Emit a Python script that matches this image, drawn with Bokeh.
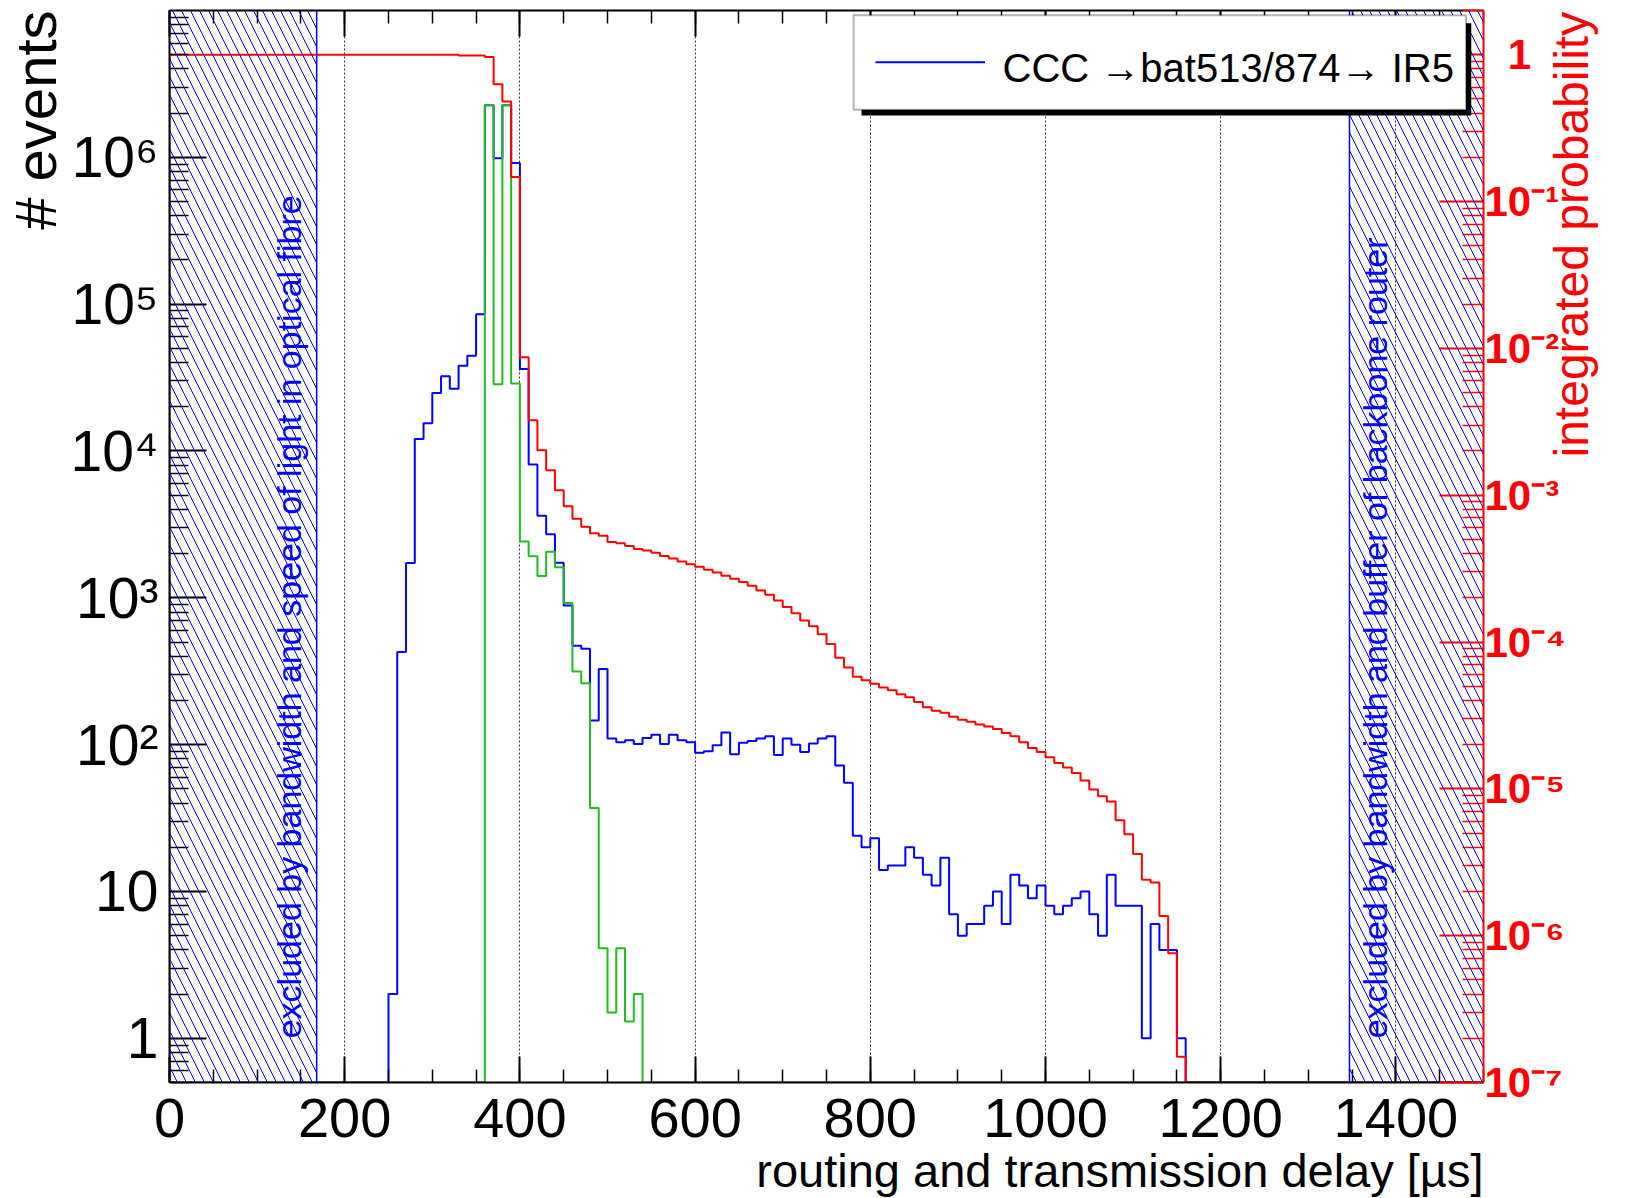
import numpy as np
from bokeh.plotting import figure
from bokeh.models import (Range1d, LogScale, LogAxis, LinearAxis, FixedTicker,
                          Label, BoxAnnotation, Span, Arrow, Title)
from bokeh.embed import file_html
from bokeh.resources import INLINE

# ---------------- data ----------------
BIN_WIDTH = 10            # µs
X_MIN, X_MAX = 0, 1500

# CCC ->bat513/874-> IR5 (blue), counts per 10 µs bin starting at 250 µs
blue_first_bin = 250
blue_counts = [2, 428, 1726, 12080, 15450, 24840, 32340, 26530, 38000, 44500,
               85500, 2260000, 985000, 2260000, 916000, 36200, 8090, 3620, 2710, 1730,
               885, 471, 449, 146, 328, 110, 104, 107, 101, 111,
               117, 101, 117, 107, 104, 88, 90, 99, 121, 86,
               103, 106, 110, 114, 85, 110, 100, 89, 102, 110,
               114, 72, 55, 24, 20, 23, 14, 15, 15, 20,
               17, 13, 11, 17, 7, 5, 6, 6, 8, 10,
               6, 13, 11, 9, 11, 8, 7, 8, 9, 10,
               7, 5, 13, 8, 8, 8, 1, 6, 4, 4,
               1]

# second (green) histogram, counts per bin starting at 360 µs
green_first_bin = 360
green_counts = [2260000, 28500, 2260000, 28800, 2420, 1920, 1410, 2058, 1615, 923,
                315, 262, 37, 4.1, 1.5, 4.1, 1.3, 2.0]

# integrated probability (red, right axis); plateau before the first listed bin
red_plateau = 1.0
red_first_bin = 330
red_prob = [0.986, 0.986, 0.986, 0.964, 0.63, 0.48, 0.147, 8.7e-3, 3.24e-3, 2.02e-3,
            1.48e-3, 1.08e-3, 8.4e-4, 6.9e-4, 6.1e-4, 5.5e-4, 5.3e-4, 4.8e-4, 4.7e-4, 4.5e-4,
            4.3e-4, 4.2e-4, 4.05e-4, 3.86e-4, 3.7e-4, 3.54e-4, 3.38e-4, 3.25e-4, 3.1e-4, 2.97e-4,
            2.83e-4, 2.7e-4, 2.56e-4, 2.42e-4, 2.24e-4, 2.1e-4, 1.92e-4, 1.73e-4, 1.57e-4, 1.4e-4,
            1.28e-4, 1.13e-4, 9.7e-5, 7.8e-5, 6.7e-5, 5.8e-5, 5.5e-5, 5.2e-5, 4.9e-5, 4.7e-5,
            4.4e-5, 4.2e-5, 3.9e-5, 3.6e-5, 3.4e-5, 3.3e-5, 3.1e-5, 2.96e-5, 2.86e-5, 2.74e-5,
            2.66e-5, 2.56e-5, 2.4e-5, 2.28e-5, 2.08e-5, 1.9e-5, 1.78e-5, 1.64e-5, 1.5e-5, 1.4e-5,
            1.28e-5, 1.14e-5, 9.9e-6, 8.9e-6, 8.2e-6, 6.1e-6, 4.9e-6, 3.6e-6, 2.4e-6, 2.3e-6,
            1.36e-6, 7.6e-7, 1.5e-7]

# excluded regions (µs)
excl_low_end = 168
excl_high_start = 1347

x_major_ticks = [0, 200, 400, 600, 800, 1000, 1200, 1400]
left_tick_labels = {1: "1", 10: "10", 100: "10\u00b2", 1000: "10\u00b3",
                    10000: "10\u2074", 100000: "10\u2075", 1000000: "10\u2076"}
right_tick_labels = {1: "\u20071", 0.1: "10\u207b\u00b9", 0.01: "10\u207b\u00b2",
                     0.001: "10\u207b\u00b3", 0.0001: "10\u207b\u2074",
                     1e-05: "10\u207b\u2075", 1e-06: "10\u207b\u2076",
                     1e-07: "10\u207b\u2077"}

x_title = "routing and transmission delay [\u00b5s]"
y_title = "# events"
y2_title = "integrated probability"
legend_text = "CCC \u2192bat513/874\u2192 IR5"
left_note = "excluded by bandwidth and speed of light in optical fibre"
right_note = "excluded by bandwidth and buffer of backbone router"

# ---------------- helpers ----------------
Y_MIN, Y_MAX = 0.5, 1e7
P_MIN, P_MAX = 1e-7, 2.0
n_bins = (X_MAX - X_MIN) // BIN_WIDTH
edges = X_MIN + BIN_WIDTH * np.arange(n_bins + 1)


def full_bins(first_bin, values, before=0.0):
    arr = np.zeros(n_bins)
    i0 = (first_bin - X_MIN) // BIN_WIDTH
    arr[:i0] = before
    arr[i0:i0 + len(values)] = values
    return arr


def step_path(values, floor):
    v = np.where(values > 0, values, floor)
    xs = np.concatenate([[edges[0]], np.repeat(edges, 2)[1:-1], [edges[-1]]])
    ys = np.concatenate([[floor], np.repeat(v, 2), [floor]])
    return xs, ys


FONT = "Liberation Sans"

p = figure(width=1628, height=1198, x_range=Range1d(X_MIN, X_MAX),
           y_range=Range1d(Y_MIN, Y_MAX), y_axis_type="log",
           output_backend="svg", toolbar_location=None,
           min_border_left=168, min_border_right=145, min_border_top=10,
           min_border_bottom=116)
p.extra_y_ranges = {"prob": Range1d(P_MIN, P_MAX)}
p.extra_y_scales = {"prob": LogScale()}
p.outline_line_color = None
p.background_fill_color = "white"
p.border_fill_color = "white"

bottom_axis = p.below[0]
left_axis = p.left[0]

# grid: dotted vertical lines
p.ygrid.grid_line_color = None
p.xgrid.ticker = FixedTicker(ticks=x_major_ticks[1:])
p.xgrid.grid_line_color = "#333333"
p.xgrid.grid_line_dash = "2 2"
p.xgrid.grid_line_width = 1

# x axes (bottom + top)
x_minor = list(range(X_MIN, X_MAX + 1, 50))
top_axis = LinearAxis()
p.add_layout(top_axis, "above")
for ax in [bottom_axis, top_axis]:
    ax.ticker = FixedTicker(ticks=x_major_ticks, minor_ticks=x_minor)
    ax.major_tick_in = 26
    ax.major_tick_out = 0
    ax.minor_tick_in = 13
    ax.minor_tick_out = 0
    ax.axis_line_width = 2
    ax.axis_line_color = "black"
    ax.major_tick_line_width = 2
    ax.minor_tick_line_width = 1.5
top_axis.major_label_text_color = None
bottom_axis.major_label_text_font = FONT
bottom_axis.major_label_text_font_size = "56px"
bottom_axis.major_label_text_color = "black"
bottom_axis.major_label_standoff = 16

# left log axis
left_major = [10.0 ** d for d in range(0, 7)]
left_minor = [k * 10.0 ** d for d in range(-1, 7) for k in range(2, 10)]
left_axis.ticker = FixedTicker(ticks=left_major, minor_ticks=left_minor)
left_axis.major_tick_in = 37
left_axis.major_tick_out = 0
left_axis.minor_tick_in = 19
left_axis.minor_tick_out = 0
left_axis.axis_line_width = 2
left_axis.major_tick_line_width = 2
left_axis.minor_tick_line_width = 1.5
left_axis.major_label_overrides = left_tick_labels
left_axis.major_label_text_font = FONT
left_axis.major_label_text_font_size = "57px"
left_axis.major_label_text_color = "black"
left_axis.major_label_standoff = 11

# right (probability) axis
right_major = [10.0 ** d for d in range(-7, 1)]
right_minor = [k * 10.0 ** d for d in range(-7, 1) for k in range(2, 10)]
rax = LogAxis(y_range_name="prob",
              ticker=FixedTicker(ticks=right_major, minor_ticks=right_minor))
rax.major_tick_in = 44
rax.major_tick_out = 0
rax.minor_tick_in = 21
rax.minor_tick_out = 0
rax.axis_line_color = "red"
rax.axis_line_width = 2
rax.major_tick_line_color = "red"
rax.minor_tick_line_color = "red"
rax.major_tick_line_width = 2
rax.minor_tick_line_width = 1.5
rax.major_label_overrides = right_tick_labels
rax.major_label_text_font = FONT
rax.major_label_text_font_style = "bold"
rax.major_label_text_font_size = "42px"
rax.major_label_text_color = "red"
rax.major_label_standoff = 1
p.add_layout(rax, "right")

# right-hand title: rotated label of an otherwise invisible outer axis
y2_title_anchor = 2.58e-3
tax = LogAxis(y_range_name="prob",
              ticker=FixedTicker(ticks=[y2_title_anchor], minor_ticks=[]))
tax.axis_line_color = None
tax.major_tick_in = 0
tax.major_tick_out = 0
tax.minor_tick_in = 0
tax.minor_tick_out = 0
tax.major_label_overrides = {y2_title_anchor: y2_title}
tax.major_label_orientation = np.pi / 2
tax.major_label_text_font = FONT
tax.major_label_text_font_size = "48px"
tax.major_label_text_color = "red"
tax.major_label_standoff = 3
p.add_layout(tax, "right")

# axis titles
p.add_layout(Title(text=y_title, align="right", text_font=FONT,
                   text_font_size="58px", text_font_style="normal",
                   text_color="black", standoff=0), "left")
p.add_layout(Title(text=x_title, align="right", text_font=FONT,
                   text_font_size="47px", text_font_style="normal",
                   text_color="black", standoff=4), "below")

# ---------------- histograms ----------------
blue = full_bins(blue_first_bin, blue_counts)
green = full_bins(green_first_bin, green_counts)
red = full_bins(red_first_bin, red_prob, before=red_plateau)

bx, by = step_path(blue, Y_MIN)
p.line(bx, by, line_color="#0000ff", line_width=2)
gx, gy = step_path(green, Y_MIN)
p.line(gx, gy, line_color="#22bb22", line_width=2)
rx, ry = step_path(red, P_MIN)
p.line(rx, ry, line_color="#ff0000", line_width=2, y_range_name="prob")

# ---------------- excluded (hatched) regions ----------------
for lo, hi in [(X_MIN, excl_low_end), (excl_high_start, X_MAX)]:
    p.add_layout(BoxAnnotation(left=lo, right=hi, fill_alpha=0, line_alpha=0,
                               hatch_pattern="\\", hatch_color="#0000ff",
                               hatch_scale=18, hatch_weight=1))
for loc in [excl_low_end, excl_high_start]:
    p.add_layout(Span(location=loc, dimension="height", line_color="#0000ff",
                      line_width=1.5))

p.add_layout(Label(x=136, y=1, text=left_note, angle=np.pi / 2,
                   text_align="left", text_baseline="alphabetic",
                   text_font=FONT, text_font_size="34px", text_color="#0000ff"))
p.add_layout(Label(x=1376, y=1, text=right_note, angle=np.pi / 2,
                   text_align="left", text_baseline="alphabetic",
                   text_font=FONT, text_font_size="34px", text_color="#0000ff"))

# ---------------- legend ----------------
p.add_layout(BoxAnnotation(left=790, right=1486, top=8.2e6, bottom=1.93e6,
                           fill_color="black", fill_alpha=1, line_alpha=0,
                           level="overlay"))
p.add_layout(BoxAnnotation(left=781, right=1480, top=9.27e6, bottom=2.11e6,
                           fill_color="white", fill_alpha=1, line_color="black",
                           line_width=2, level="overlay"))
p.add_layout(Arrow(x_start=806, y_start=4.44e6, x_end=931, y_end=4.44e6, end=None,
                   line_color="#0000ff", line_width=2, level="overlay"))
p.add_layout(Label(x=951, y=4.06e6, text=legend_text, text_align="left",
                   text_baseline="alphabetic", text_font=FONT,
                   text_font_size="40px", text_color="black", level="overlay"))

open("out.html", "w").write(file_html(p, INLINE))
